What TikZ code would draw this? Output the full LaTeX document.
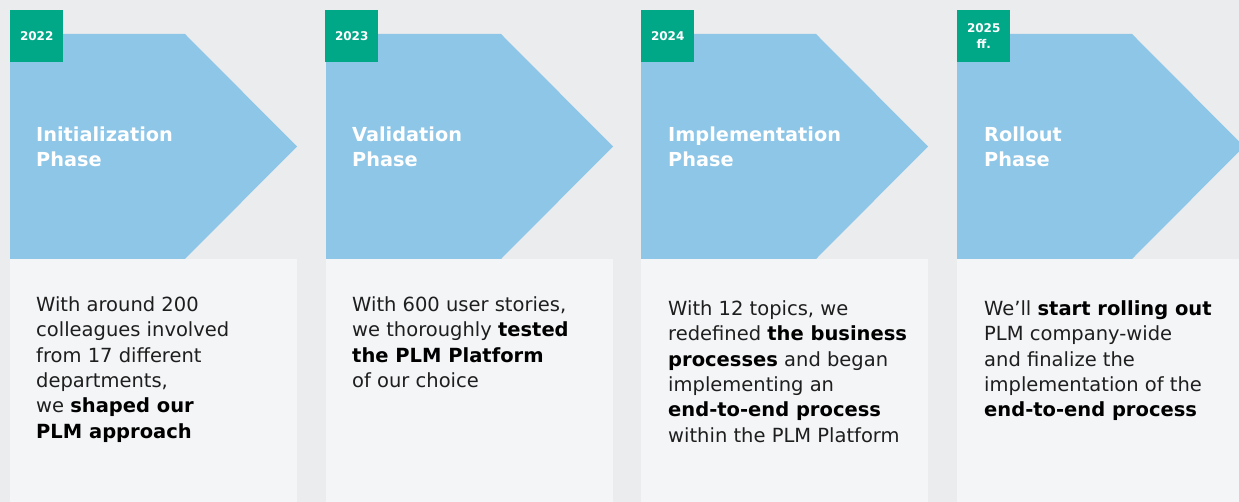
\documentclass[tikz,border=0pt]{standalone}
\usepackage{fontspec}
\setmainfont{DejaVu Sans}
\definecolor{bg}{HTML}{EBECEE}
\definecolor{card}{HTML}{F4F5F7}
\definecolor{chev}{HTML}{8EC6E7}
\definecolor{grn}{HTML}{00A887}
\definecolor{txt}{HTML}{1E1E1E}
\newcommand{\firstline}[1]{\rule{0pt}{#1}}
\newcommand{\hb}[1]{\textbf{\color{black}#1}}
\tikzset{
  chevshape/.style={fill=chev, draw=none},
  cardshape/.style={fill=card, draw=none},
  badgebox/.style={fill=grn, draw=none, minimum width=53pt, minimum height=52pt, inner sep=0pt, anchor=north west, text=white, align=center, font=\bfseries\fontsize{12}{15.7}\selectfont},
  phasetitle/.style={anchor=north west, inner sep=0pt, align=left, text=white, font=\bfseries\fontsize{19.3}{25}\selectfont},
  bodytext/.style={anchor=north west, inner sep=0pt, align=left, text=txt, font=\fontsize{19.5}{25.4}\selectfont},
}
\begin{document}
\begin{tikzpicture}[x=1pt,y=-1pt]
\fill[bg] (0,0) rectangle (1239,502);
\useasboundingbox (0,0) rectangle (1239,502);
\begin{scope}
\clip (0,0) rectangle (1239,502);
\foreach \xo in {10,326,641,957}{
  \fill[cardshape] (\xo,259) rectangle ({\xo+287},502);
  \fill[chevshape] (\xo,34) -- ({\xo+175},34) -- ({\xo+287},146.5) -- ({\xo+175},259) -- (\xo,259) -- cycle;
}
\end{scope}
\node[badgebox] (b1) at (10,10) {2022};
\node[badgebox] (b2) at (325,10) {2023};
\node[badgebox] (b3) at (641,10) {2024};
\node[badgebox] (b4) at (957,10) {2025\\ff.};
\node[phasetitle] (t1) at (36,123.7) {\firstline{18pt}Initialization\\Phase};
\node[phasetitle] (t2) at (352,123.7) {\firstline{18pt}Validation\\Phase};
\node[phasetitle] (t3) at (668,123.7) {\firstline{18pt}Implementation\\Phase};
\node[phasetitle] (t4) at (984,123.7) {\firstline{18pt}Rollout\\Phase};
\node[bodytext] (d1) at (36,295) {\firstline{16pt}With around 200\\colleagues involved\\from 17 different\\departments,\\we \hb{shaped our}\\\hb{PLM approach}};
\node[bodytext] (d2) at (352,295) {\firstline{16pt}With 600 user stories,\\we thoroughly \hb{tested}\\\hb{the PLM Platform}\\of our choice};
\node[bodytext] (d3) at (668,299) {\firstline{16pt}With 12 topics, we\\redefined \hb{the business}\\\hb{processes} and began\\implementing an\\\hb{end-to-end process}\\within the PLM Platform};
\node[bodytext] (d4) at (984,299) {\firstline{16pt}We’ll \hb{start rolling out}\\PLM company-wide\\and finalize the\\implementation of the\\\hb{end-to-end process}};
\end{tikzpicture}
\end{document}
